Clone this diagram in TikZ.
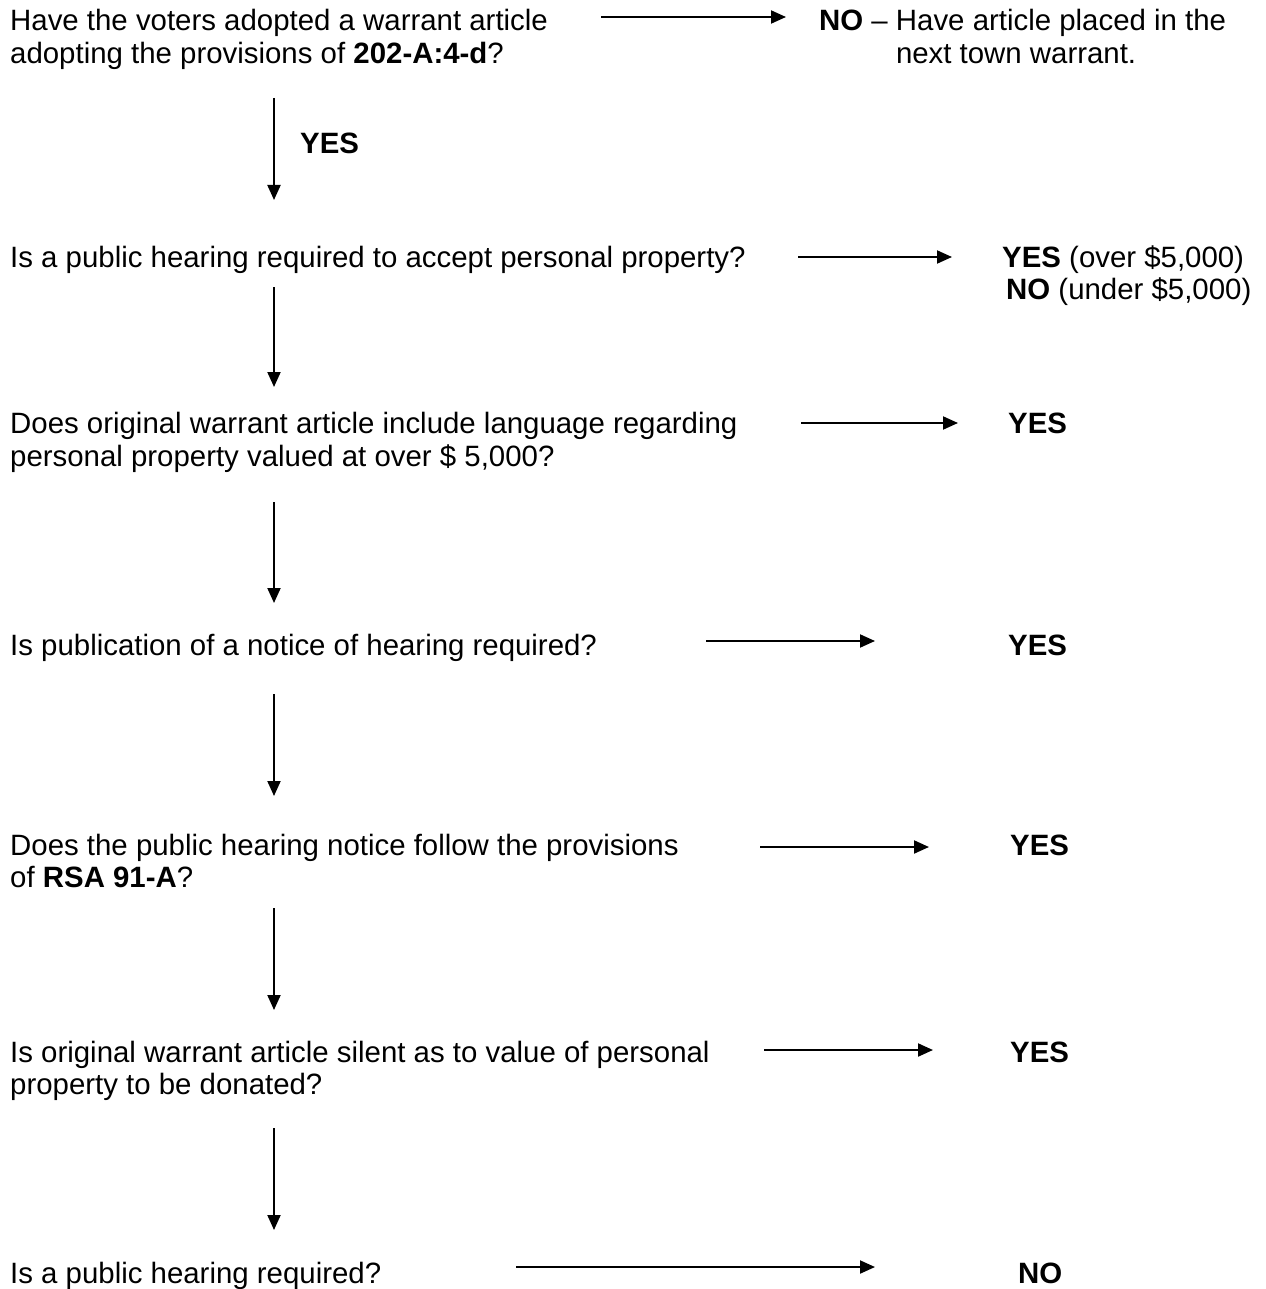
\documentclass[tikz,border=0pt]{standalone}
\usepackage{fontspec}
\setmainfont{Liberation Sans}
\usetikzlibrary{arrows.meta}
\begin{document}
\begin{tikzpicture}[x=1pt,y=-1pt,
  txt/.style={anchor=base west,inner sep=0pt,align=left,font=\fontsize{29.4}{32.5}\selectfont},
  conn/.style={line width=2pt,-{Triangle[length=15pt,width=13pt]}}]
\useasboundingbox[fill=white] (0,0) rectangle (1265,1289);
% questions (anchor = baseline of the last line)
\node[txt] (q1) at (10,63.5) {Have the voters adopted a warrant article\\adopting the provisions of \textbf{202-A:4-d}?};
\node[txt] (q2) at (10,267) {Is a public hearing required to accept personal property?};
\node[txt] (q3) at (10,466) {Does original warrant article include language regarding\\personal property valued at over \$ 5,000?};
\node[txt] (q4) at (10,655) {Is publication of a notice of hearing required?};
\node[txt] (q5) at (10,887.5) {Does the public hearing notice follow the provisions\\of \textbf{RSA 91-A}?};
\node[txt] (q6) at (10,1094.5) {Is original warrant article silent as to value of personal\\property to be donated?};
\node[txt] (q7) at (10,1283) {Is a public hearing required?};
% answers
\node[txt] (r1) at (819,63.5) {\textbf{NO} -- Have article placed in the\\\hphantom{\textbf{NO} -- }next town warrant.};
\node[txt] (y1) at (300,154) {\textbf{YES}};
\node[txt] (r2) at (1002,299.5) {\textbf{YES} (over \$5,000)\\\hspace*{4pt}\textbf{NO} (under \$5,000)};
\node[txt] (r3) at (1008,433) {\textbf{YES}};
\node[txt] (r4) at (1008,655) {\textbf{YES}};
\node[txt] (r5) at (1010,855) {\textbf{YES}};
\node[txt] (r6) at (1010,1062) {\textbf{YES}};
\node[txt] (r7) at (1018,1283) {\textbf{NO}};
% connector ends
\coordinate (d1s) at (274,98);   \coordinate (d1e) at (274,200);
\coordinate (d2s) at (274,287);  \coordinate (d2e) at (274,387);
\coordinate (d3s) at (274,502);  \coordinate (d3e) at (274,603);
\coordinate (d4s) at (274,694);  \coordinate (d4e) at (274,796);
\coordinate (d5s) at (274,908);  \coordinate (d5e) at (274,1010);
\coordinate (d6s) at (274,1128); \coordinate (d6e) at (274,1230);
\coordinate (h1s) at (601,17);   \coordinate (h1e) at (786,17);
\coordinate (h2s) at (798,257);  \coordinate (h2e) at (952,257);
\coordinate (h3s) at (801,423);  \coordinate (h3e) at (958,423);
\coordinate (h4s) at (706,641);  \coordinate (h4e) at (875,641);
\coordinate (h5s) at (760,847);  \coordinate (h5e) at (929,847);
\coordinate (h6s) at (764,1050); \coordinate (h6e) at (933,1050);
\coordinate (h7s) at (516,1267); \coordinate (h7e) at (875,1267);
\foreach \i in {1,...,6} \draw[conn] (d\i s) -- (d\i e);
\foreach \i in {1,...,7} \draw[conn] (h\i s) -- (h\i e);
\end{tikzpicture}
\end{document}
